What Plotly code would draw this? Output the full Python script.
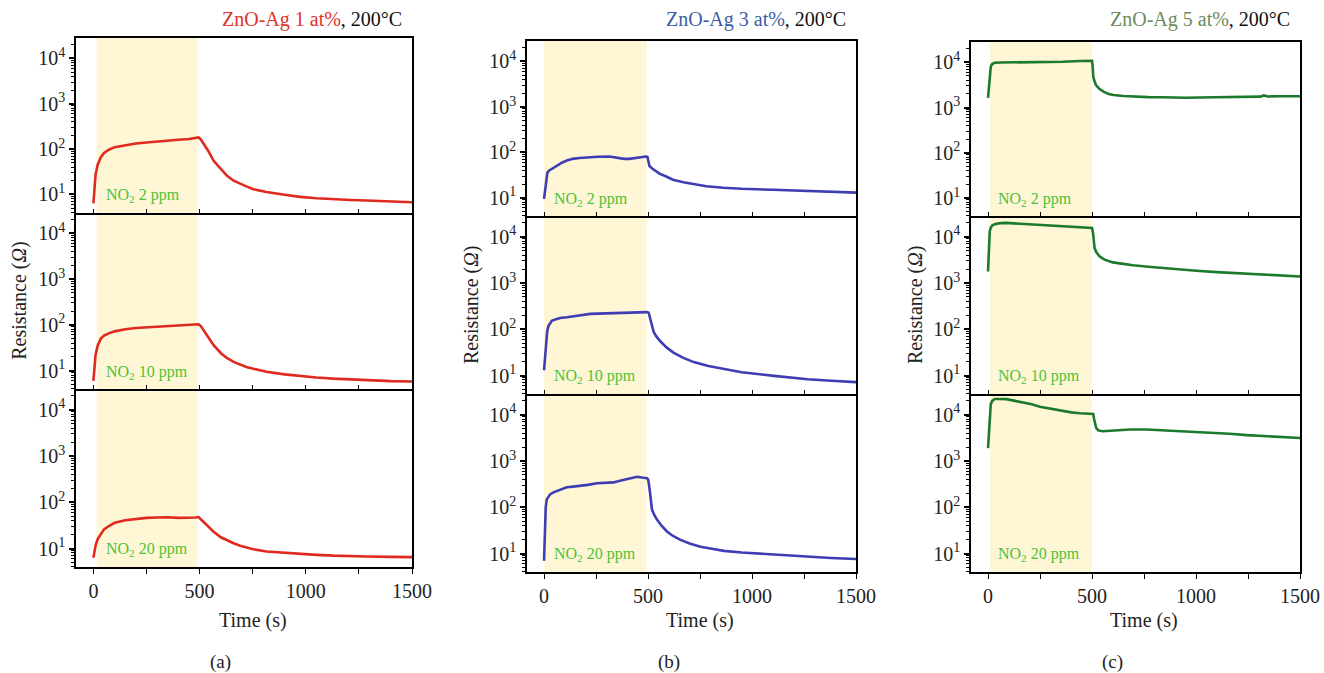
import plotly.graph_objects as go

# ---------------- data ----------------
panel_labels = ["(a)", "(b)", "(c)"]
samples = ["ZnO-Ag 1 at%", "ZnO-Ag 3 at%", "ZnO-Ag 5 at%"]
temperature = "200°C"
concentrations = ["2 ppm", "10 ppm", "20 ppm"]
exposure = [[15, 490], [0, 493], [10, 498]]

a1_t = [0,5,10,20,35,50,75,100,150,200,250,300,350,400,450,480,495,505,520,540,566,600,628,660,691,720,753,815,900,973,1050,1130,1210,1287,1400,1500]
a1_r = [6.3,14,27,45,66,82,98,110,122,132,140,148,153,160,166,172,180,165,130,92,55,36,26,20,17,15,13,11.3,9.8,8.8,8.2,7.7,7.5,7.3,7.0,6.7]
a2_t = a1_t
a2_r = [6,12,22,35,50,58,66,72,80,85,88,90,93,95,98,100,103,95,75,52,36,24,19,15.5,13.3,12,11,9.5,8.3,7.6,7.1,6.7,6.4,6.2,5.9,5.8]
a3_t = a1_t
a3_r = [6.3,8.5,11.5,16,21,26,31,36,41,44,46,47,47.5,46,46,47,48,44,37,30,23,17.5,15,13,11.5,10.5,9.6,8.6,8,7.6,7.3,7.0,6.8,6.7,6.6,6.5]

b1_t = [0,5,10,16,25,40,60,88,110,137,170,217,260,314,340,362,385,410,440,470,490,497,502,507,520,555,590,620,670,716,780,861,950,1102,1263,1380,1500]
b1_r = [9.5,15,25,36,40,44,52,60,66,72,75,78,80,81,78,74,72,72,76,79,81,80,62,50,44,34,29,25,22,20,18,16.7,15.8,15,14,13.5,13]
b2_t = [0,5,10,15,21,30,37,50,77,110,141,180,222,260,302,350,399,450,495,503,511,520,527,540,559,590,624,670,720,790,865,950,1106,1267,1380,1500]
b2_r = [13,25,60,90,117,140,152,160,175,182,190,200,215,218,222,226,230,232,235,228,170,110,88,70,55,40,31,24,19.5,16,13.8,11.8,9.8,8.3,7.7,7.2]
b3_t = [0,3,5,8,13,20,29,45,61,85,109,140,174,210,254,300,334,370,399,425,447,470,495,500,503,510,519,530,543,565,591,620,656,700,752,800,865,950,1026,1150,1267,1380,1500]
b3_r = [7,20,53,100,148,170,190,210,225,250,270,280,290,305,330,335,345,380,410,440,457,440,425,400,345,200,89,68,54,40,30,24,19.7,16.5,14,12.8,11.4,10.5,10,9.2,8.5,8,7.6]

c1_t = [0,3,5,8,13,20,32,60,121,200,281,360,442,480,500,503,506,512,519,535,555,580,603,650,699,770,844,950,1085,1200,1310,1326,1345,1406,1500]
c1_r = [1630,2500,4100,6000,8000,9200,9800,9900,10000,9900,10100,10300,10700,10800,10800,8000,4800,3800,3150,2600,2250,2000,1900,1800,1750,1700,1690,1650,1690,1700,1740,1850,1760,1780,1780]
c2_t = [0,3,5,8,13,20,29,50,85,130,166,220,278,330,375,430,488,500,505,512,520,536,560,600,650,697,770,841,950,1002,1100,1243,1380,1500]
c2_r = [1780,4000,9500,13000,15800,17500,18500,19500,20000,19500,19000,18500,17900,17500,17000,16500,15700,15500,12000,5770,4700,3800,3200,2800,2600,2420,2250,2100,1900,1850,1720,1580,1480,1390]
c3_t = [0,3,5,8,13,20,32,60,88,130,169,210,249,300,346,400,442,480,506,510,514,520,530,550,571,620,683,763,850,924,1000,1085,1160,1245,1330,1406,1500]
c3_r = [1910,3000,5200,10000,17000,20000,22000,22000,21800,20000,18600,17000,15000,13500,12200,11300,10800,10500,10400,8000,6200,5200,4600,4400,4450,4600,4800,4800,4600,4450,4300,4100,3900,3640,3450,3300,3150]

series = [
    [(a1_t, a1_r), (a2_t, a2_r), (a3_t, a3_r)],
    [(b1_t, b1_r), (b2_t, b2_r), (b3_t, b3_r)],
    [(c1_t, c1_r), (c2_t, c2_r), (c3_t, c3_r)],
]

y_tickvals = [10, 100, 1000, 10000]
y_ticktext = ["10<sup>1</sup>", "10<sup>2</sup>", "10<sup>3</sup>", "10<sup>4</sup>"]
x_tickvals = [0, 500, 1000, 1500]

# ---------------- style ----------------
W, H = 1324, 673
line_colors = ["#E0291F", "#3E3DB3", "#1C7A2B"]
title_colors = ["#E0322A", "#3B5EA3", "#6C8C5C"]
note_color = "#4CC23A"
shade = "#FEF6D4"
FONT = "Liberation Serif, Times New Roman, serif"

# pixel geometry of each panel column: x0, x1, row boundaries
cols = [
    (76, 412, [38, 212.5, 389, 567]),
    (527, 856, [41, 216, 394, 572]),
    (971, 1300, [42, 216, 394, 572]),
]
ylabel_x = [20, 472, 916]

minor_vals = [m * 10 ** k for k in range(0, 5) for m in range(2, 10)]

fig = go.Figure()
layout = dict(width=W, height=H, autosize=False, margin=dict(l=0, r=0, t=0, b=0),
              paper_bgcolor="white", plot_bgcolor="white", showlegend=False,
              font=dict(family=FONT, size=19, color="#222"))
shapes = []
annotations = []

for p in range(3):
    x0, x1, rows = cols[p]
    for r in range(3):
        idx = p * 3 + r + 1
        xa = "xaxis" if idx == 1 else f"xaxis{idx}"
        ya = "yaxis" if idx == 1 else f"yaxis{idx}"
        xr = "x" if idx == 1 else f"x{idx}"
        yr = "y" if idx == 1 else f"y{idx}"
        top, bot = rows[r], rows[r + 1]
        bottom_row = (r == 2)
        layout[xa] = dict(
            domain=[x0 / W, x1 / W], anchor=yr, range=[-82, 1500], automargin=False,
            showgrid=False, zeroline=False, showline=True, linecolor="black",
            linewidth=1.8, mirror=(r == 0),
            tickmode="array", tickvals=x_tickvals,
            ticks="outside" if bottom_row else "inside", ticklen=5 if bottom_row else 4,
            tickwidth=1.4, tickcolor="black",
            minor=dict(tickmode="array", tickvals=[250, 750, 1250],
                       ticks="outside" if bottom_row else "inside",
                       ticklen=5 if bottom_row else 4, tickwidth=1.4, tickcolor="black"),
            showticklabels=bottom_row,
            tickfont=dict(family=FONT, size=20, color="#222"),
        )
        layout[ya] = dict(
            domain=[1 - bot / H, 1 - top / H], anchor=xr, type="log", automargin=False,
            range=[0.6, 4.45], showgrid=False, zeroline=False, showline=True,
            linecolor="black", linewidth=1.6, mirror=True,
            tickmode="array", tickvals=y_tickvals, ticktext=y_ticktext,
            ticks="outside", ticklen=5, tickwidth=1.6, tickcolor="black",
            minor=dict(tickmode="array", tickvals=minor_vals, ticks="outside",
                       ticklen=3, tickwidth=1.2, tickcolor="black"),
            tickfont=dict(family=FONT, size=20, color="#222"),
        )
        shapes.append(dict(type="rect", xref=xr, yref=f"{yr} domain",
                           x0=exposure[p][0], x1=exposure[p][1], y0=0, y1=1,
                           fillcolor=shade, line=dict(width=0), layer="below"))
        t, v = series[p][r]
        fig.add_trace(go.Scatter(x=t, y=v, mode="lines", xaxis=xr, yaxis=yr,
                                 line=dict(color=line_colors[p], width=2.6),
                                 hoverinfo="skip"))
        annotations.append(dict(xref=xr, yref=yr, x=40 if p else 52, y=0.97,
                                xanchor="left", yanchor="middle", showarrow=False,
                                text=f"NO<sub>2</sub> {concentrations[r]}",
                                font=dict(family=FONT, size=16, color=note_color)))
    # titles
    annotations.append(dict(xref="paper", yref="paper", x=(x1 - 8) / W, y=1 - 19 / H,
                            xanchor="right", yanchor="middle", showarrow=False,
                            text=f"<span style='color:{title_colors[p]}'>{samples[p]}</span>, {temperature}",
                            font=dict(family=FONT, size=20, color="#111")))
    # y label on middle panel
    mid = (cols[p][2][1] + cols[p][2][2]) / 2
    annotations.append(dict(xref="paper", yref="paper", x=ylabel_x[p] / W, y=1 - mid / H,
                            xanchor="center", yanchor="middle", showarrow=False, textangle=-90,
                            text="Resistance (<i>Ω</i>)",
                            font=dict(family=FONT, size=20, color="#222")))
    bx = f"x{p * 3 + 3}"
    annotations.append(dict(xref=bx, yref="paper", x=750, y=1 - 620 / H,
                            xanchor="center", yanchor="middle", showarrow=False,
                            text="Time (s)", font=dict(family=FONT, size=20, color="#222")))
    annotations.append(dict(xref=bx, yref="paper", x=600, y=1 - 662 / H,
                            xanchor="center", yanchor="middle", showarrow=False,
                            text=panel_labels[p], font=dict(family=FONT, size=19, color="#222")))

layout["shapes"] = shapes
layout["annotations"] = annotations
fig.update_layout(**layout)
fig.write_html("out.html",
               config={"displayModeBar": False, "responsive": False},
               post_script="document.body.style.margin='0';document.body.style.overflow='hidden';")
